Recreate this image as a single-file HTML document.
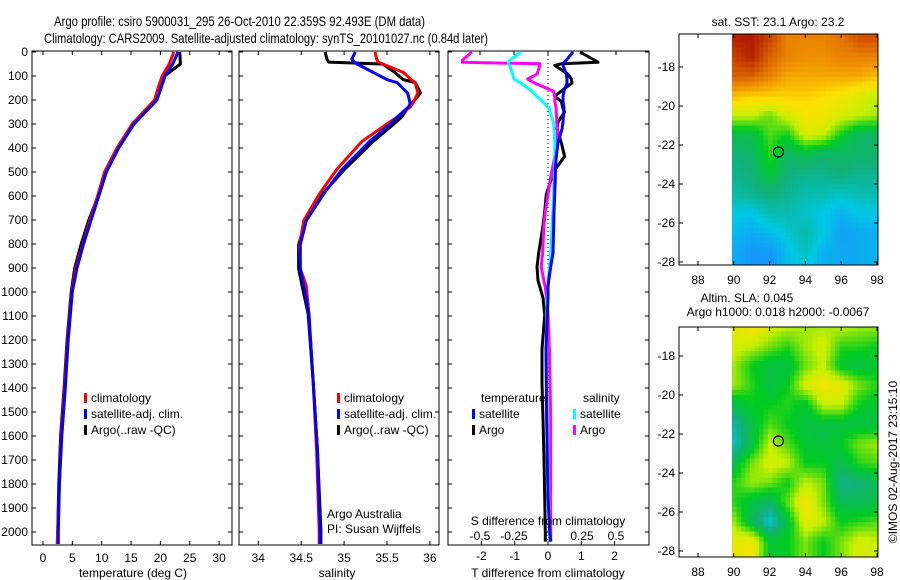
<!DOCTYPE html>
<html><head><meta charset="utf-8"><style>
html,body{margin:0;padding:0;background:#fff;}
svg{display:block;font-family:"Liberation Sans",sans-serif;}
</style></head><body>
<svg id="c" width="900" height="580" viewBox="0 0 900 580" xmlns="http://www.w3.org/2000/svg">
<defs>
<clipPath id="cm1"><rect x="732" y="34" width="146" height="231"/></clipPath>
<clipPath id="cm2"><rect x="732" y="327" width="146" height="230"/></clipPath>
</defs>
<text x="54" y="26" font-size="14" textLength="371" lengthAdjust="spacingAndGlyphs">Argo profile: csiro 5900031_295 26-Oct-2010 22.359S 92.493E (DM data)</text>
<text x="44" y="43" font-size="14" textLength="444" lengthAdjust="spacingAndGlyphs">Climatology: CARS2009. Satellite-adjusted climatology: synTS_20101027.nc (0.84d later)</text>
<g id="g"></g>
</svg>
<script>
// ---- data ----
const tDepths=[0,50,100,150,200,300,400,500,600,700,800,900,1000,1200,1400,1600,1800,2000,2050];
const tClim=[22.3,21.5,20.3,19.6,19.0,15.2,12.6,10.5,9.3,8.0,6.8,5.6,4.9,4.2,3.7,3.1,2.8,2.5,2.4];
const tSat=[23.0,22.1,20.8,20.1,19.4,15.5,12.9,10.8,9.5,8.2,6.9,5.8,5.0,4.3,3.8,3.2,2.8,2.6,2.6];
const tArgo=[23.3,23.4,20.7,20.0,19.4,15.5,12.8,10.6,9.4,7.8,6.5,5.4,4.8,4.1,3.6,3.0,2.7,2.5,2.5];
const sDepths=[0,30,42,50,85,115,128,171,214,229,271,300,372,487,587,702,803,903,975,1090,1376,1663,1993,2050];
const sClim=[35.36,35.38,35.40,35.45,35.69,35.78,35.83,35.86,35.80,35.77,35.62,35.50,35.21,34.92,34.72,34.53,34.48,34.49,34.56,34.59,34.64,34.68,34.71,34.71];
const sSat=[35.13,35.09,35.12,35.15,35.34,35.50,35.62,35.74,35.77,35.75,35.62,35.54,35.30,34.98,34.77,34.56,34.49,34.49,34.53,34.59,34.64,34.69,34.72,34.72];
const sArgo=[34.78,34.80,34.82,35.45,35.59,35.69,35.83,35.89,35.79,35.75,35.67,35.58,35.34,35.01,34.76,34.55,34.47,34.47,34.51,34.58,34.64,34.69,34.73,34.73];
const dDepths=[0,34,43,49,56,92,113,129,163,185,206,235,250,292,321,378,435,493,522,593,665,723,838,895,952,981,1024,1096,1238,1380,1527,1700,1850,2000,2040];
const dTsat=[0.75,0.55,0.48,0.45,0.45,0.55,0.57,0.57,0.48,0.45,0.45,0.48,0.47,0.45,0.42,0.3,0.25,0.22,0.22,0.2,0.18,0.17,0.15,0.08,0.02,0.0,0.0,-0.02,-0.06,-0.05,-0.04,-0.02,0.0,0.05,0.08];
const dTargo=[0.96,1.4,1.5,0.4,0.2,0.6,0.7,0.72,0.4,0.2,0.4,0.45,0.5,0.3,0.27,0.4,0.5,0.2,0.12,-0.05,-0.1,-0.15,-0.28,-0.33,-0.3,-0.24,-0.15,-0.1,-0.18,-0.18,-0.15,-0.12,-0.1,-0.08,-0.08];
const dSsat=[-0.2,-0.28,-0.29,-0.29,-0.28,-0.26,-0.25,-0.2,-0.12,-0.08,-0.04,0.01,0.015,0.04,0.045,0.05,0.05,0.05,0.045,0.04,0.035,0.03,0.02,0.01,0.0,0.0,-0.005,-0.01,-0.01,-0.01,-0.005,0.0,0.005,0.01,0.015];
const dSargo=[-0.56,-0.63,-0.63,-0.06,-0.06,-0.08,-0.15,-0.1,0.04,0.05,0.05,0.06,0.06,0.065,0.07,0.07,0.05,0.03,0.02,0.0,-0.02,-0.03,-0.04,-0.05,-0.03,-0.02,-0.01,0.0,0.01,0.015,0.02,0.02,0.02,0.02,0.02];
const depthTicks=[0,100,200,300,400,500,600,700,800,900,1000,1100,1200,1300,1400,1500,1600,1700,1800,1900,2000];
const tTicks=[0,5,10,15,20,25,30];
const sTicks=["34","34.5","35","35.5","36"];
const dTTicks=["-2","-1","0","1","2"];
const dSTicks=["-0.5","-0.25","0","0.25","0.5"];
const latTicks=[-18,-20,-22,-24,-26,-28];
const lonTicks=[88,90,92,94,96,98];
const mapLats=[-16.5,-17.5,-18.5,-19.5,-20.5,-21.5,-22.5,-23.5,-24.5,-25.5,-26.5,-27.5,-28.5];
const mapLons=[90,91,92,93,94,95,96,97,98];
const sstGrid=[
[0.95,0.96,0.9,0.8,0.8,0.8,0.82,0.88,0.88],
[0.9,0.95,0.85,0.8,0.78,0.78,0.8,0.8,0.8],
[0.85,0.85,0.8,0.75,0.75,0.75,0.75,0.75,0.72],
[0.72,0.7,0.7,0.7,0.7,0.68,0.66,0.62,0.6],
[0.6,0.6,0.55,0.62,0.66,0.66,0.62,0.6,0.58],
[0.45,0.45,0.54,0.5,0.62,0.6,0.5,0.42,0.42],
[0.4,0.42,0.52,0.42,0.45,0.42,0.42,0.42,0.42],
[0.38,0.4,0.48,0.4,0.38,0.38,0.4,0.38,0.38],
[0.36,0.38,0.4,0.38,0.35,0.35,0.33,0.35,0.35],
[0.3,0.3,0.35,0.35,0.33,0.3,0.26,0.3,0.3],
[0.28,0.25,0.28,0.32,0.36,0.3,0.24,0.25,0.26],
[0.25,0.22,0.22,0.28,0.34,0.26,0.25,0.25,0.27],
[0.25,0.22,0.22,0.28,0.3,0.26,0.25,0.25,0.27]];
const slaGrid=[
[0.62,0.68,0.62,0.6,0.58,0.58,0.6,0.58,0.58],
[0.62,0.6,0.56,0.52,0.58,0.62,0.52,0.52,0.5],
[0.58,0.5,0.46,0.46,0.55,0.6,0.48,0.46,0.48],
[0.58,0.52,0.46,0.5,0.62,0.66,0.64,0.56,0.52],
[0.45,0.5,0.5,0.52,0.48,0.6,0.6,0.5,0.48],
[0.36,0.46,0.54,0.5,0.46,0.46,0.46,0.46,0.46],
[0.33,0.46,0.6,0.54,0.48,0.46,0.5,0.56,0.58],
[0.45,0.56,0.62,0.6,0.5,0.5,0.44,0.52,0.54],
[0.52,0.58,0.56,0.5,0.6,0.56,0.38,0.4,0.44],
[0.52,0.46,0.42,0.55,0.66,0.56,0.44,0.44,0.46],
[0.58,0.44,0.32,0.46,0.64,0.6,0.5,0.52,0.54],
[0.64,0.66,0.48,0.5,0.56,0.5,0.56,0.62,0.6],
[0.64,0.66,0.48,0.5,0.56,0.5,0.56,0.62,0.6]];
const argoLon=92.493, argoLat=-22.359;

// ---- helpers ----
const NS="http://www.w3.org/2000/svg";
const G=document.getElementById('g');
function el(tag,attrs,parent){const e=document.createElementNS(NS,tag);for(const k in attrs)e.setAttribute(k,attrs[k]);(parent||G).appendChild(e);return e;}
function txt(x,y,s,size,anchor,parent){const t=el('text',{x:x,y:y,'font-size':size||12,'text-anchor':anchor||'start'},parent);t.textContent=s;return t;}
const Y=d=>52+d*0.24;
const PT=51,PB=545;
const xT=v=>43+v*5.87;
const xS=v=>258.3+(v-34)*85.8;
const xDT=v=>548+v*33.3;
const xDS=v=>548+v*136;

function frame(x1,x2,name){
  const r=el('rect',{x:x1,y:PT,width:x2-x1,height:PB-PT,fill:'none',stroke:'#000','stroke-width':1});
  
  
  depthTicks.forEach(d=>{el('line',{x1:x1,x2:x1+4,y1:Y(d),y2:Y(d),stroke:'#000'});el('line',{x1:x2,x2:x2-4,y1:Y(d),y2:Y(d),stroke:'#000'});});
}
function line(depths,vals,xf,color,name,w){
  const pts=depths.map((d,i)=>xf(vals[i]).toFixed(1)+','+Y(d).toFixed(1)).join(' ');
  const p=el('polyline',{points:pts,fill:'none',stroke:color,'stroke-width':w||3,'stroke-linejoin':'round'});
  
  
}
function legend(x,y,color,label,name){
  const g=el('g',{});
  
  
  el('rect',{x:x,y:y-9,width:3,height:10,fill:color},g);
  txt(x+7,y,label,12,'start',g);
}

// ---- panel 1: temperature ----
frame(32,232,'temperature-panel');
depthTicks.forEach(d=>{const t=txt(28,Y(d)+4,String(d),12,'end');});
tTicks.forEach(v=>{el('line',{x1:xT(v),x2:xT(v),y1:PB,y2:PB-4,stroke:'#000'});el('line',{x1:xT(v),x2:xT(v),y1:PT,y2:PT+4,stroke:'#000'});txt(xT(v),562,String(v),12,'middle');});
line(tDepths,tArgo,xT,'#000','temp-argo-line');
line(tDepths,tClim,xT,'#f00','temp-climatology-line');
line(tDepths,tSat,xT,'#00f','temp-satellite-line');
txt(133,577,'temperature (deg C)',12,'middle');
legend(84,402,'#f00','climatology','legend-climatology');
legend(84,418,'#00f','satellite-adj. clim.','legend-satellite');
legend(84,434,'#000','Argo(..raw -QC)','legend-argo');

// ---- panel 2: salinity ----
frame(239,439,'salinity-panel');
sTicks.forEach(s=>{const v=parseFloat(s);el('line',{x1:xS(v),x2:xS(v),y1:PB,y2:PB-4,stroke:'#000'});el('line',{x1:xS(v),x2:xS(v),y1:PT,y2:PT+4,stroke:'#000'});txt(xS(v),562,s,12,'middle');});
line(sDepths,sArgo,xS,'#000','sal-argo-line');
line(sDepths,sClim,xS,'#f00','sal-climatology-line');
line(sDepths,sSat,xS,'#00f','sal-satellite-line');
txt(337,577,'salinity',12,'middle');
legend(337,402,'#f00','climatology','legend-climatology-2');
legend(337,418,'#00f','satellite-adj. clim.','legend-satellite-2');
legend(337,434,'#000','Argo(..raw -QC)','legend-argo-2');
txt(327,518,'Argo Australia',12);
txt(327,533,'PI: Susan Wijffels',12);

// ---- panel 3: differences ----
frame(448,649,'difference-panel');
el('line',{x1:548,x2:548,y1:PT,y2:PB,stroke:'#000','stroke-dasharray':'1,3'});
dTTicks.forEach(s=>{const v=parseFloat(s);el('line',{x1:xDT(v),x2:xDT(v),y1:PB,y2:PB-4,stroke:'#000'});txt(xDT(v),560,s,12,'middle');});
dSTicks.forEach(s=>{const v=parseFloat(s);el('line',{x1:xDS(v),x2:xDS(v),y1:PT,y2:PT+4,stroke:'#000'});txt(xDS(v),540,s,12,'middle');});
line(dDepths,dTargo,xDT,'#000','dT-argo-line');
line(dDepths,dSargo,xDS,'#f0f','dS-argo-line');
line(dDepths,dSsat,xDS,'#0ff','dS-satellite-line');
line(dDepths,dTsat,xDT,'#00f','dT-satellite-line');
txt(548,525,'S difference from climatology',12,'middle');
txt(548,577,'T difference from climatology',12,'middle');
txt(481,402,'temperature',12);
legend(472,418,'#00f','satellite','legend-dT-satellite');
legend(472,434,'#000','Argo','legend-dT-argo');
txt(583,402,'salinity',12);
legend(573,418,'#0ff','satellite','legend-dS-satellite');
legend(573,434,'#f0f','Argo','legend-dS-argo');

// ---- maps ----
const cstops=[[0.2,[26,140,255]],[0.3,[0,200,230]],[0.4,[16,176,120]],[0.5,[0,204,32]],[0.6,[200,240,0]],[0.68,[255,224,0]],[0.78,[240,144,0]],[0.88,[208,80,0]],[1.0,[160,0,0]]];
function cmap(v){if(v<=cstops[0][0])return 'rgb('+cstops[0][1]+')';for(let i=1;i<cstops.length;i++){if(v<=cstops[i][0]){const a=cstops[i-1],b=cstops[i],t=(v-a[0])/(b[0]-a[0]);return 'rgb('+a[1].map((c,k)=>Math.round(c+(b[1][k]-c)*t)).join(',')+')';}}return 'rgb('+cstops[cstops.length-1][1]+')';}
function sample(grid,lon,lat){
  // bilinear interpolation on grid indexed by mapLats/mapLons
  let fc=Math.max(0,Math.min(mapLons.length-1.001,lon-mapLons[0]));
  let fr=Math.max(0,Math.min(mapLats.length-1.001,mapLats[0]-lat));
  const c0=Math.floor(fc),r0=Math.floor(fr),tc=fc-c0,tr=fr-r0;
  const a=grid[r0][c0],b=grid[r0][c0+1],c=grid[r0+1][c0],d=grid[r0+1][c0+1];
  return a*(1-tc)*(1-tr)+b*tc*(1-tr)+c*(1-tc)*tr+d*tc*tr;
}
function map(top,bottom,y18,grid,clip,name){
  const mx=lon=>698+(lon-88)*17.9;
  const my=lat=>y18+(-18-lat)*19.5;
  const g=el('g',{'clip-path':'url(#'+clip+')','shape-rendering':'crispEdges'});
  
  
  const step=0.25;
  for(let lat=-16.25;lat>-28.6;lat-=step){
    for(let lon=89.9;lon<98.1;lon+=step){
      const v=sample(grid,lon+step/2,lat-step/2);
      const cell=el('rect',{x:mx(lon).toFixed(1),y:my(lat).toFixed(1),width:(17.9*step+0.6).toFixed(2),height:(19.5*step+0.6).toFixed(2),fill:cmap(v)},g);
      
    }
  }
  el('rect',{x:679,y:top,width:199,height:bottom-top,fill:'none',stroke:'#000'});
  latTicks.forEach(l=>{el('line',{x1:679,x2:683,y1:my(l),y2:my(l),stroke:'#000'});el('line',{x1:878,x2:874,y1:my(l),y2:my(l),stroke:'#000'});txt(675,my(l)+4,String(l),12,'end');});
  lonTicks.forEach(l=>{el('line',{x1:mx(l),x2:mx(l),y1:bottom,y2:bottom-4,stroke:'#000'});el('line',{x1:mx(l),x2:mx(l),y1:top,y2:top+4,stroke:'#000'});txt(mx(l),bottom+19,String(l),12,'middle');});
  const c=el('ellipse',{cx:mx(argoLon),cy:my(argoLat),rx:5,ry:5,fill:'none',stroke:'#000','stroke-width':1.2});
  
  
}
map(34,265,67,sstGrid,'cm1','sst-map');
map(327,557,356,slaGrid,'cm2','sla-map');
txt(778,26,'sat. SST: 23.1  Argo: 23.2',12,'middle');
txt(747,302,'Altim. SLA: 0.045',12,'middle');
txt(778,316,'Argo h1000: 0.018 h2000: -0.0067',12,'middle');
const cp=txt(0,0,'©IMOS 02-Aug-2017 23:15:10',12,'middle');
cp.setAttribute('transform','translate(897,462) rotate(-90)');


</script>
</body></html>
